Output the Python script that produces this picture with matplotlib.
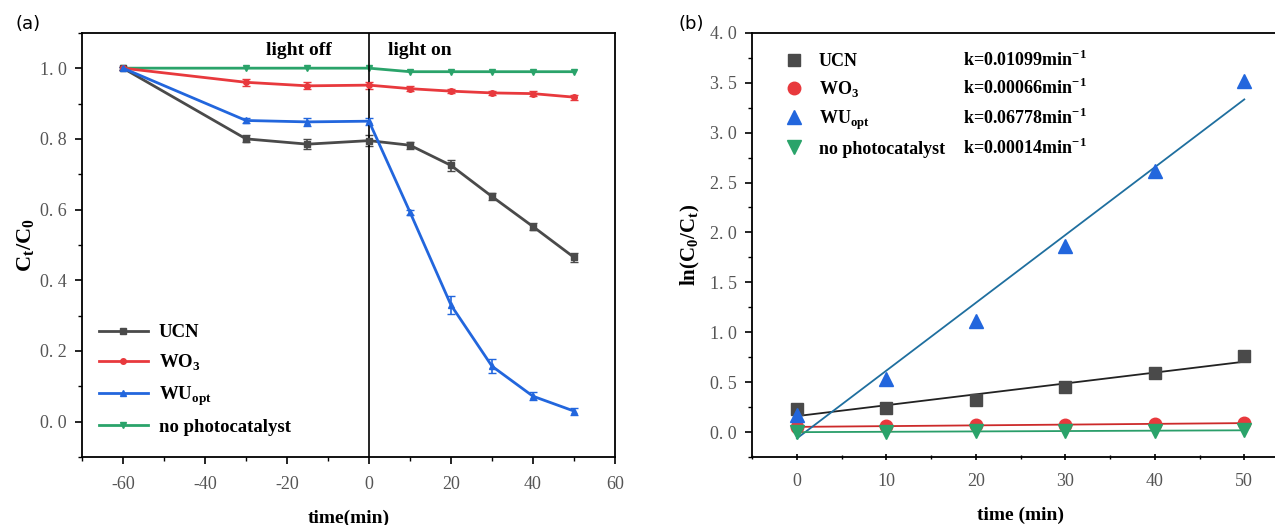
import numpy as np
import matplotlib
matplotlib.use("Agg")
from matplotlib import pyplot as plt
from matplotlib.lines import Line2D
from matplotlib.ticker import MultipleLocator, FuncFormatter

plt.rcParams['font.family'] = ['Liberation Serif', 'DejaVu Serif']
plt.rcParams['mathtext.fontset'] = 'custom'
plt.rcParams['mathtext.rm'] = 'Liberation Serif'
plt.rcParams['mathtext.bf'] = 'Liberation Serif:bold'
plt.rcParams['axes.unicode_minus'] = False

## (a) degradation curves
t_a = [-60, -30, -15, 0, 10, 20, 30, 40, 50]
ucn_a = [1.0, 0.800, 0.785, 0.795, 0.782, 0.725, 0.637, 0.552, 0.465]
ucn_err = [0.004, 0.010, 0.014, 0.015, 0.010, 0.015, 0.010, 0.010, 0.012]
wo3_a = [1.0, 0.960, 0.950, 0.952, 0.942, 0.935, 0.930, 0.928, 0.918]
wo3_err = [0.004, 0.010, 0.010, 0.010, 0.008, 0.006, 0.006, 0.008, 0.007]
wu_a = [1.0, 0.852, 0.848, 0.850, 0.593, 0.330, 0.157, 0.072, 0.030]
wu_err = [0.004, 0.008, 0.012, 0.010, 0.007, 0.025, 0.020, 0.012, 0.010]
blank_a = [1.0, 1.0, 1.0, 1.0, 0.990, 0.990, 0.990, 0.990, 0.990]

## (b) pseudo-first-order kinetics
t_b = [0, 10, 20, 30, 40, 50]
ucn_b = [0.23, 0.245, 0.32, 0.45, 0.59, 0.76]
wo3_b = [0.05, 0.06, 0.07, 0.075, 0.08, 0.09]
wu_b = [0.17, 0.53, 1.11, 1.86, 2.62, 3.52]
blank_b = [0.0, 0.0, 0.01, 0.01, 0.01, 0.02]

names = ['UCN', 'WO$_\\mathbf{3}$', 'WU$_\\mathbf{opt}$', 'no photocatalyst']
k_labels = ['k=0.01099min$^\\mathbf{-1}$', 'k=0.00066min$^\\mathbf{-1}$',
            'k=0.06778min$^\\mathbf{-1}$', 'k=0.00014min$^\\mathbf{-1}$']

c_ucn = '#4a4a4a'
c_wo3 = '#e8393d'
c_wu = '#2266dd'
c_blank = '#2aa36a'
tick_gray = '#555555'


def spaced(v, pos):
    # tick labels drawn as "1. 0"
    return ('%.1f' % v).replace('.', '. ')


fig = plt.figure(figsize=(12.75, 5.25), dpi=100)
ax1 = fig.add_axes([0.0643, 0.1295, 0.418, 0.808])
ax2 = fig.add_axes([0.590, 0.1295, 0.421, 0.808])

# ---- panel a
lw = 2.0
ek = dict(capsize=3, elinewidth=1.2, ms=4, lw=lw)
ax1.errorbar(t_a, ucn_a, yerr=ucn_err, color=c_ucn, marker='s', **ek)
ax1.errorbar(t_a, wo3_a, yerr=wo3_err, color=c_wo3, marker='o', **ek)
ax1.errorbar(t_a, wu_a, yerr=wu_err, color=c_wu, marker='^', **ek)
ax1.plot(t_a, blank_a, color=c_blank, lw=lw, marker='v', ms=4)
ax1.axvline(0, color='black', lw=1.2)
ax1.text(-17, 1.05, 'light off', ha='center', va='center', fontsize=14,
         fontweight='bold')
ax1.text(12.5, 1.05, 'light on', ha='center', va='center', fontsize=14,
         fontweight='bold')

handles_a = [Line2D([], [], color=c, lw=lw, marker=m, ms=4)
             for c, m in zip([c_ucn, c_wo3, c_wu, c_blank], ['s', 'o', '^', 'v'])]
ax1.legend(handles_a, names, loc='lower left', bbox_to_anchor=(0.0, 0.01),
           frameon=False, prop={'weight': 'bold', 'size': 13.5},
           handlelength=2.6, labelspacing=0.6, handletextpad=0.6)

ax1.set_xlim(-70, 60)
ax1.set_ylim(-0.1, 1.1)
ax1.xaxis.set_major_locator(MultipleLocator(20))
ax1.xaxis.set_minor_locator(MultipleLocator(10))
ax1.yaxis.set_major_locator(MultipleLocator(0.2))
ax1.yaxis.set_minor_locator(MultipleLocator(0.1))
ax1.yaxis.set_major_formatter(FuncFormatter(spaced))
ax1.set_xlabel('time(min)', fontsize=14, fontweight='bold', labelpad=12)
ax1.set_ylabel('C$_\\mathbf{t}$/C$_\\mathbf{0}$', fontsize=16,
               fontweight='bold', labelpad=2)

# ---- panel b
ax2.plot(t_b, ucn_b, 's', color=c_ucn, ms=9)
ax2.plot(t_b, wo3_b, 'o', color=c_wo3, ms=9)
ax2.plot(t_b, wu_b, '^', color=c_wu, ms=10)
ax2.plot(t_b, blank_b, 'v', color=c_blank, ms=10)

fit_colors = ['#222222', '#cc2a2a', '#1f6f9f', '#2a9e6a']
xs = np.array([0, 50])
for ys, col in zip([ucn_b, wo3_b, wu_b, blank_b], fit_colors):
    p = np.polyfit(t_b, ys, 1)
    ax2.plot(xs, np.polyval(p, xs), color=col, lw=1.3, zorder=1)

handles_b = [Line2D([], [], ls='none', color=c, marker=m, ms=s)
             for c, m, s in zip([c_ucn, c_wo3, c_wu, c_blank],
                                ['s', 'o', '^', 'v'], [9, 9, 10, 10])]
leg2 = ax2.legend(handles_b, names, loc='upper left',
                  bbox_to_anchor=(0.03, 0.99), frameon=False,
                  prop={'weight': 'bold', 'size': 13}, handlelength=1.0,
                  labelspacing=0.5, handletextpad=0.9)

ax2.set_xlim(-5, 55)
ax2.set_ylim(-0.25, 4.0)
ax2.xaxis.set_major_locator(MultipleLocator(10))
ax2.xaxis.set_minor_locator(MultipleLocator(5))
ax2.yaxis.set_major_locator(MultipleLocator(0.5))
ax2.yaxis.set_minor_locator(MultipleLocator(0.25))
ax2.yaxis.set_major_formatter(FuncFormatter(spaced))
ax2.set_xlabel('time (min)', fontsize=14, fontweight='bold', labelpad=12)
ax2.set_ylabel('ln(C$_\\mathbf{0}$/C$_\\mathbf{t}$)', fontsize=15,
               fontweight='bold', labelpad=6)

for ax in (ax1, ax2):
    for s in ax.spines.values():
        s.set_linewidth(1.3)
    ax.tick_params(axis='both', which='both', direction='out',
                   colors='black', labelcolor=tick_gray, labelsize=13, pad=6)
    ax.tick_params(which='major', length=5, width=1.2)
    ax.tick_params(which='minor', length=3, width=1.0)
ax1.tick_params(axis='x', pad=9)
ax2.tick_params(axis='x', which='both', direction='inout', pad=9)

fig.text(0.012, 0.945, '(a)', fontsize=13, family='DejaVu Sans')
fig.text(0.532, 0.945, '(b)', fontsize=13, family='DejaVu Sans')

# rate constants sit on the same baselines as the legend entries
fig.canvas.draw()
inv = ax2.transData.inverted()
for txt, lab in zip(leg2.get_texts(), k_labels):
    bx, by = txt.get_transform().transform(txt.get_position())
    y_data = inv.transform((0, by))[1]
    ax2.text(0.392, y_data, lab, transform=ax2.get_yaxis_transform(),
             fontsize=13, fontweight='bold', va='baseline', ha='left')

fig.savefig('out.png', dpi=100)
